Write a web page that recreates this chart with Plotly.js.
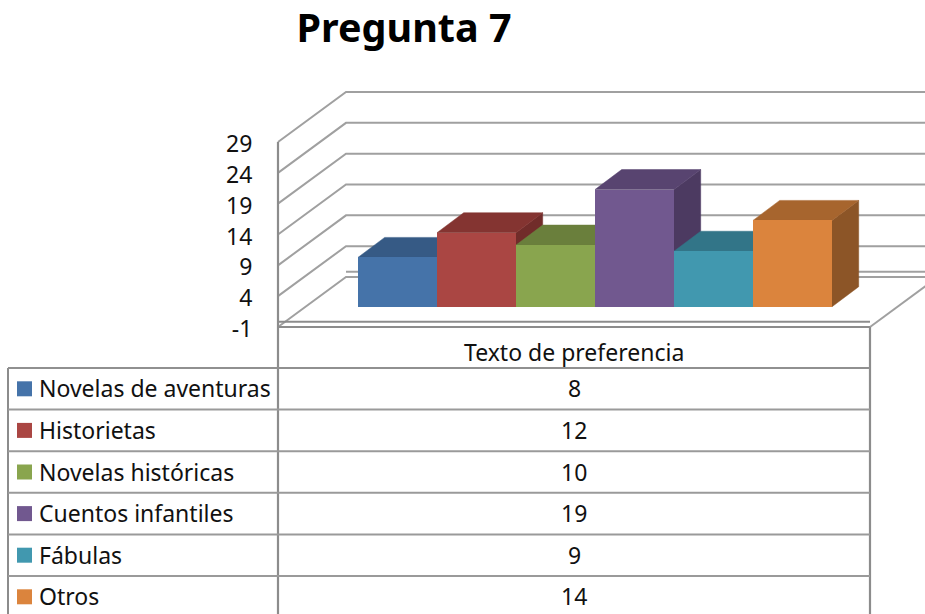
<!DOCTYPE html>
<html>
<head>
<meta charset="utf-8">
<script src="https://cdn.plot.ly/plotly-3.0.1.min.js"></script>
<style>html,body{margin:0;padding:0;background:#fff}#c{width:925px;height:614px}</style>
</head>
<body>
<div id="c"></div>
<script>
var categories = ['Novelas de aventuras','Historietas','Novelas históricas','Cuentos infantiles','Fábulas','Otros'];
var values = [8,12,10,19,9,14];
var colors = ['#4573A9','#AA4643','#89A54E','#71588F','#4198AF','#DB843D'];
var topColors = ['#365A85','#843431','#6A7F3C','#584470','#327588','#A7652E'];
var sideColors = ['#2E4C70','#712C2A','#5A6C33','#4C3A61','#2B6474','#8C5527'];
var yTicks = [-1,4,9,14,19,24,29];
var seriesName = 'Texto de preferencia';
var chartTitle = 'Pregunta 7';

var W = 925, H = 614;
// axis scales: one category = 79px, one value unit = 6.167px
var catPx = 79, firstBarLeft = 358;
var unitPx = 6.167, axisZeroPx = 327 - 6.167;
var xRange = [(0 - firstBarLeft)/catPx - 0.5, (W - firstBarLeft)/catPx - 0.5];
var yRange = [(axisZeroPx - H)/unitPx, axisZeroPx/unitPx];
function X(p){ return (p - firstBarLeft)/catPx - 0.5; }

// oblique depth of the wall and of the bars, in axis units
var wallDx = 68/catPx, wallDy = 50/unitPx;
var barDx = 26.7/catPx, barDy = 20/unitPx;
var barBase = 14.1/unitPx;
var axisLeft = X(278), axisRight = X(870), floorValue = -0.15;

var gx = [], gy = [];
yTicks.forEach(function(t){
  gx.push(axisLeft, axisLeft + wallDx, axisLeft + wallDx + 12, null);
  gy.push(t, t + wallDy, t + wallDy, null);
});
// floor level behind the bars
gx.push(axisLeft + wallDx, axisLeft + wallDx + 12, null);
gy.push(floorValue + wallDy, floorValue + wallDy, null);
// right edge of the floor
gx.push(axisRight, axisRight + wallDx, null);
gy.push(-1, -1 + wallDy, null);

var frontX = [axisLeft, axisLeft, null, axisLeft, axisRight, null, axisLeft, axisRight, null, axisRight, axisRight];
var bottom = yRange[0];
var frontY = [29, bottom, null, -1, -1, null, floorValue, floorValue, null, -1, bottom];

var traces = [
  {x:gx, y:gy, mode:'lines', line:{color:'#a0a0a0', width:2}, hoverinfo:'skip', showlegend:false},
  {x:frontX, y:frontY, mode:'lines', line:{color:'#8c8c8c', width:2.2}, hoverinfo:'skip', showlegend:false}
];
function poly(xs, ys, col, nm){
  return {x:xs, y:ys, mode:'lines', fill:'toself', fillcolor:col, line:{color:col, width:0.5}, name:nm, hoverinfo:'skip', showlegend:false};
}
values.forEach(function(v,i){
  var r=i+0.5, b=barBase, t=barBase+v;
  traces.push(poly([r,r+barDx,r+barDx,r,r],[b,b+barDy,t+barDy,t,b],sideColors[i],categories[i]));
});
values.forEach(function(v,i){
  var l=i-0.5, r=i+0.5, t=barBase+v;
  traces.push(poly([l,r,r+barDx,l+barDx,l],[t,t,t+barDy,t+barDy,t],topColors[i],categories[i]));
});
values.forEach(function(v,i){
  traces.push({type:'bar', x:[i], y:[v], base:[barBase], width:[1], name:categories[i],
    marker:{color:colors[i], line:{width:0}}, xaxis:'x2', yaxis:'y2', showlegend:false});
});

var font = '"Noto Sans", Lato, sans-serif';
var ink = '#111111';
var tableLine = '#8c8c8c';
var tableTop = 368, rowH = 41.6, tableLeft = 8, colSplit = 278, tableRight = 870;
function pl(x0,y0,x1,y1,c,w){
  return {type:'line', xref:'paper', yref:'paper', x0:x0/W, x1:x1/W, y0:1-y0/H, y1:1-y1/H, line:{color:c||tableLine, width:w||2}};
}
var shapes = [pl(tableLeft,tableTop,tableLeft,H)];
var annotations = [{xref:'paper',yref:'paper',x:574/W,y:1-352/H,text:seriesName,showarrow:false,xanchor:'center',yanchor:'middle',font:{family:font,size:23,color:ink}}];
categories.forEach(function(c,i){
  var yTop = tableTop + rowH*i, yMid = yTop + rowH/2;
  shapes.push(pl(tableLeft,yTop,tableRight,yTop,i===0?'#909090':'#9a9a9a',2));
  shapes.push({type:'rect', xref:'paper', yref:'paper', x0:17/W, x1:32/W, y0:1-(yMid-7.5)/H, y1:1-(yMid+7.5)/H, fillcolor:colors[i], line:{width:0}});
  annotations.push({xref:'paper',yref:'paper',x:37/W,y:1-(yMid-0.5)/H,text:c,showarrow:false,xanchor:'left',yanchor:'middle',font:{family:font,size:23,color:ink}});
  annotations.push({xref:'paper',yref:'paper',x:574/W,y:1-(yMid-0.5)/H,text:String(values[i]),showarrow:false,xanchor:'center',yanchor:'middle',font:{family:font,size:23,color:ink}});
});

var layout = {
  width:W, height:H, margin:{l:0,r:0,t:0,b:0,pad:0}, paper_bgcolor:'#fff', plot_bgcolor:'rgba(0,0,0,0)', showlegend:false,
  title:{text:chartTitle, x:404/W, xanchor:'center', xref:'paper', y:1-28/H, yanchor:'middle', yref:'paper', font:{family:font,size:39.5,color:'#000',weight:700}},
  bargap:0,
  xaxis:{range:xRange, visible:false, fixedrange:true},
  yaxis:{range:yRange, anchor:'free', position:278/W, tickmode:'array', tickvals:yTicks, ticktext:yTicks.map(String),
    showgrid:false, zeroline:false, showline:false, ticks:'outside', ticklen:21, tickcolor:'rgba(0,0,0,0)', ticklabelshift:2, tickfont:{family:font,size:23,color:ink}, fixedrange:true},
  xaxis2:{range:xRange, overlaying:'x', visible:false, fixedrange:true},
  yaxis2:{range:yRange, overlaying:'y', visible:false, fixedrange:true},
  shapes:shapes, annotations:annotations
};
Plotly.newPlot('c', traces, layout, {staticPlot:true, displayModeBar:false});
</script>
</body>
</html>
